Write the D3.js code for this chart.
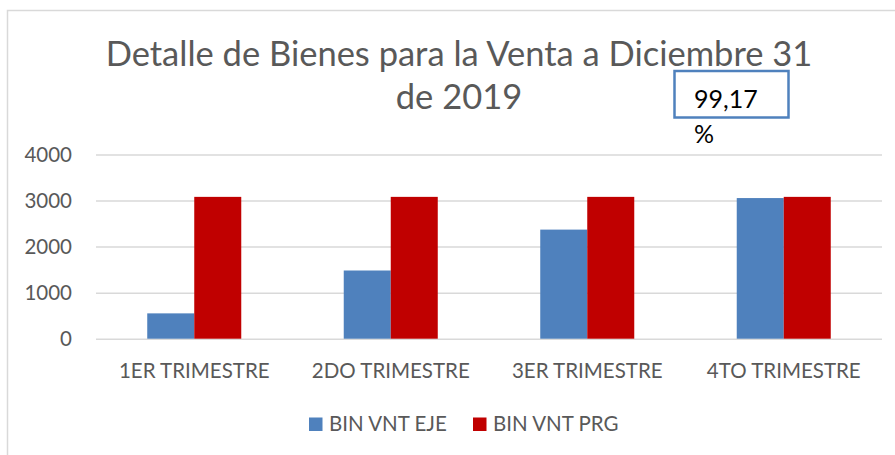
<!DOCTYPE html>
<html>
<head>
<meta charset="utf-8">
<script src="https://cdn.jsdelivr.net/npm/d3@7"></script>
<style>
  body { margin: 0; background: #fff; }
  svg { display: block; font-family: Lato, "Open Sans", sans-serif; }
</style>
</head>
<body>
<svg id="chart" width="895" height="455"></svg>
<script>
// data
var categories = ["1ER TRIMESTRE", "2DO TRIMESTRE", "3ER TRIMESTRE", "4TO TRIMESTRE"];
var seriesNames = ["BIN VNT EJE", "BIN VNT PRG"];
var binVntEje = [550, 1481, 2369, 3054];
var binVntPrg = [3080, 3080, 3080, 3080];
var yTicks = [0, 1000, 2000, 3000, 4000];
var titleLines = ["Detalle de Bienes para la Venta a Diciembre 31", "de 2019"];
var noteLines = ["99,17", "%"];

var colors = d3.scaleOrdinal()
    .domain(seriesNames)
    .range(["#4f81bd", "#c00000"]);

var plot = {left: 96, right: 882, top: 154.5, bottom: 338.7};

var svg = d3.select("#chart");

// chart frame (only top and left edges show in the picture)
svg.append("path")
    .attr("d", "M7.5,455V10.5H895")
    .attr("fill", "none")
    .attr("stroke", "#d9d9d9")
    .attr("stroke-width", 1.5);

var x0 = d3.scaleBand()
    .domain(categories)
    .range([plot.left, plot.right]);

var x1 = d3.scaleBand()
    .domain(seriesNames)
    .range([0, x0.bandwidth()])
    .paddingOuter(1.09);

var y = d3.scaleLinear()
    .domain([0, 4000])
    .range([plot.bottom, plot.top]);

// gridlines + tick labels
var yaxis = d3.axisLeft(y)
    .tickValues(yTicks)
    .tickSize(-(plot.right - plot.left))
    .tickPadding(24)
    .tickFormat(d3.format("d"));

var gy = svg.append("g")
    .attr("class", "y axis")
    .attr("transform", "translate(" + plot.left + ",0)")
    .call(yaxis);
gy.select(".domain").remove();
gy.selectAll("line").attr("stroke", "#d9d9d9").attr("stroke-width", 1.5);
gy.selectAll("text")
    .attr("fill", "#595959")
    .style("font-size", "20.5px")
    .style("font-family", "Lato, sans-serif");

// bars
var rows = categories.map(function(c, i) {
    return {cat: c, values: [
        {name: seriesNames[0], value: binVntEje[i]},
        {name: seriesNames[1], value: binVntPrg[i]}
    ]};
});

var group = svg.selectAll(".category")
    .data(rows)
    .enter().append("g")
    .attr("class", "category")
    .attr("transform", function(d) { return "translate(" + x0(d.cat) + ",0)"; });

group.selectAll("rect")
    .data(function(d) { return d.values; })
    .enter().append("rect")
    .attr("x", function(d) { return x1(d.name); })
    .attr("width", x1.bandwidth())
    .attr("y", function(d) { return y(d.value); })
    .attr("height", function(d) { return y(0) - y(d.value); })
    .attr("fill", function(d) { return colors(d.name); });

// x axis labels
var xaxis = d3.axisBottom(x0).tickSize(0).tickPadding(0);
var gx = svg.append("g")
    .attr("transform", "translate(0," + plot.bottom + ")")
    .call(xaxis);
gx.select(".domain").remove();
gx.selectAll("text")
    .attr("y", 39)
    .attr("dy", 0)
    .attr("fill", "#595959")
    .style("font-size", "20.5px")
    .style("font-family", "Lato, sans-serif");

// title
svg.selectAll(".title")
    .data(titleLines)
    .enter().append("text")
    .attr("class", "title")
    .attr("x", 459)
    .attr("y", function(d, i) { return 65.5 + i * 43.5; })
    .attr("text-anchor", "middle")
    .attr("fill", "#595959")
    .style("font-size", "34.5px")
    .text(function(d) { return d; });

// percentage note in a box
svg.append("rect")
    .attr("x", 674.5)
    .attr("y", 71)
    .attr("width", 114)
    .attr("height", 46.5)
    .attr("fill", "none")
    .attr("stroke", "#4f81bd")
    .attr("stroke-width", 2.5);

svg.selectAll(".note")
    .data(noteLines)
    .enter().append("text")
    .attr("class", "note")
    .attr("x", 694)
    .attr("y", function(d, i) { return 108 + i * 35; })
    .attr("fill", "#000")
    .style("font-size", "25px")
    .text(function(d) { return d; });

// legend
var legend = svg.selectAll(".legend")
    .data(seriesNames)
    .enter().append("g")
    .attr("class", "legend")
    .attr("transform", function(d, i) { return "translate(" + (309 + i * 164) + ",417.5)"; });

legend.append("rect")
    .attr("width", 13.5)
    .attr("height", 13.5)
    .attr("fill", colors);

legend.append("text")
    .attr("x", 20)
    .attr("y", 13.5)
    .attr("fill", "#595959")
    .style("font-size", "20.5px")
    .text(function(d) { return d; });
</script>
</body>
</html>
